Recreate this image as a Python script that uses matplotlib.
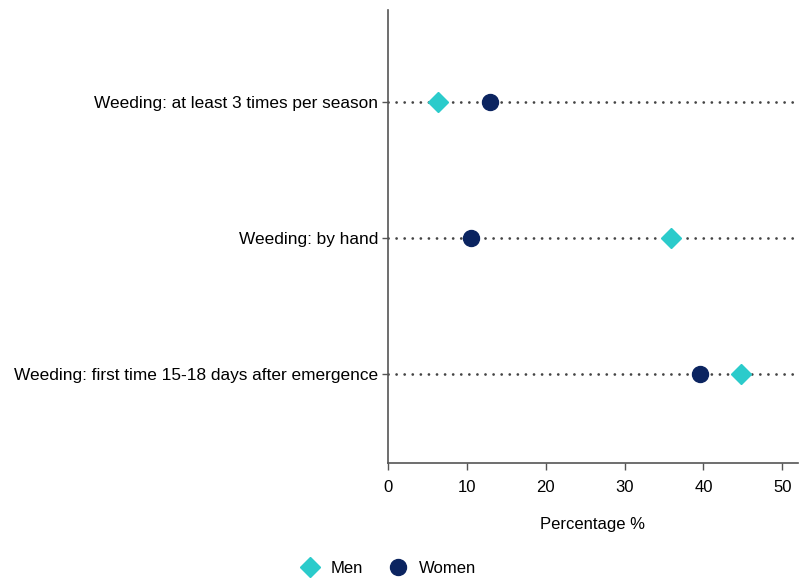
import matplotlib
matplotlib.use("Agg")
import matplotlib.pyplot as plt
from matplotlib.lines import Line2D

categories = [
    "Weeding: at least 3 times per season",
    "Weeding: by hand",
    "Weeding: first time 15-18 days after emergence",
]
men = [6.3, 35.9, 44.8]
women = [12.9, 10.5, 39.6]
xticks = [0, 10, 20, 30, 40, 50]

plt.rcParams['font.family'] = ['Liberation Sans', 'DejaVu Sans']

fig = plt.figure(figsize=(8, 5.79), dpi=100)
ax = fig.add_axes([0.485, 0.2, 0.5125, 0.783])

ypos = [2, 1, 0]
men_c = "#2BCBCB"
women_c = "#0B2460"

for y in ypos:
    ax.axhline(y, color="#444444", linestyle=(0, (0.01, 2.9)), linewidth=2.0, zorder=1,
               dash_capstyle='round')

ax.plot(men, ypos, linestyle="none", marker="D", markersize=10, color=men_c, zorder=3)
ax.plot(women, ypos, linestyle="none", marker="o", markersize=11.5, color=women_c, zorder=3)

ax.set_xlim(0, 52)
ax.set_ylim(-0.655, 2.675)
ax.set_yticks(ypos)
ax.set_yticklabels(categories, fontsize=12.4)
ax.set_xticks(xticks)
ax.set_xticklabels([str(t) for t in xticks], fontsize=12)
ax.tick_params(axis='y', length=4, color="#555555", width=1, pad=3)
ax.tick_params(axis='x', length=5, color="#555555", width=1, pad=7)
for s in ["top", "right"]:
    ax.spines[s].set_visible(False)
for s in ["left", "bottom"]:
    ax.spines[s].set_color("#555555")
    ax.spines[s].set_linewidth(1.2)

ax.set_xlabel("Percentage %", fontsize=12, labelpad=16)

handles = [
    Line2D([], [], linestyle="none", marker="D", markersize=10, color=men_c, label="Men"),
    Line2D([], [], linestyle="none", marker="o", markersize=11.5, color=women_c, label="Women"),
]
fig.legend(handles=handles, loc="center", bbox_to_anchor=(0.483, 0.018), ncol=2,
           frameon=False, fontsize=12, handletextpad=0.45, columnspacing=1.3,
           handlelength=1.6)

fig.savefig("out.png", dpi=100)
